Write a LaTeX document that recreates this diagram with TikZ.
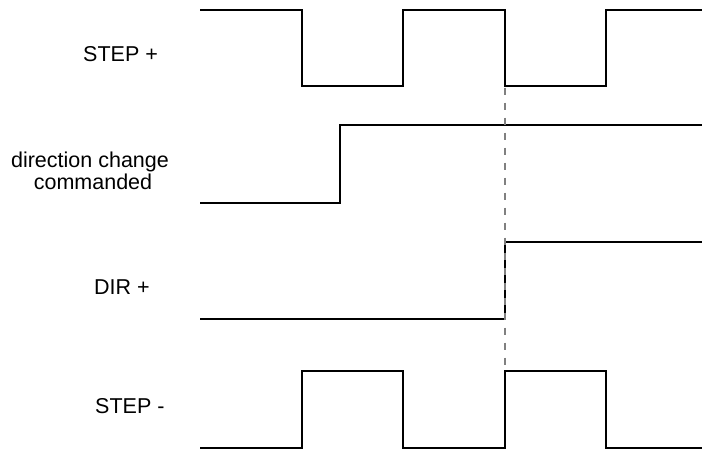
\documentclass[tikz,border=0pt]{standalone}
\usepackage{fontspec}
\setmainfont{Liberation Sans}
\begin{document}
\begin{tikzpicture}[x=1pt,y=-1pt,
  wave/.style={line width=2pt,black,line join=miter},
  marker/.style={line width=1.5pt,gray,dash pattern=on 7pt off 8pt},
  lbl/.style={inner sep=0pt,font=\fontsize{21.5}{21.3}\selectfont}]
\useasboundingbox (0,0) rectangle (702,451);
% labels
\node[lbl,anchor=base west] (stepp) at (83,61) {STEP +};
\node[lbl,anchor=base] (dirc1) at (90,167.7) {direction change};
\node[lbl,anchor=base] (dirc2) at (93,189) {commanded};
\node[lbl,anchor=base west] (dirp) at (94,294) {DIR +};
\node[lbl,anchor=base west] (stepm) at (95,413) {STEP -};
% STEP +
\draw[wave] (200,9.5) -- (302.3,9.5) -- (302.3,86.3) -- (403,86.3) -- (403,9.5)
  -- (505,9.5) -- (505,86.3) -- (606.3,86.3) -- (606.3,9.5) -- (702,9.5);
% direction change commanded
\draw[wave] (200,203) -- (340.3,203) -- (340.3,125.3) -- (702,125.3);
% DIR +
\draw[wave] (200,319) -- (505,319) -- (505,242.3) -- (702,242.3);
% STEP -
\draw[wave] (200,448.3) -- (302.3,448.3) -- (302.3,371.3) -- (403,371.3) -- (403,448.3)
  -- (505,448.3) -- (505,371.3) -- (606.3,371.3) -- (606.3,448.3) -- (702,448.3);
% dashed marker
\coordinate (mtop) at (505,87.5);
\coordinate (mbot) at (505,370);
\draw[marker] (mtop) -- (mbot);
\end{tikzpicture}
\end{document}
